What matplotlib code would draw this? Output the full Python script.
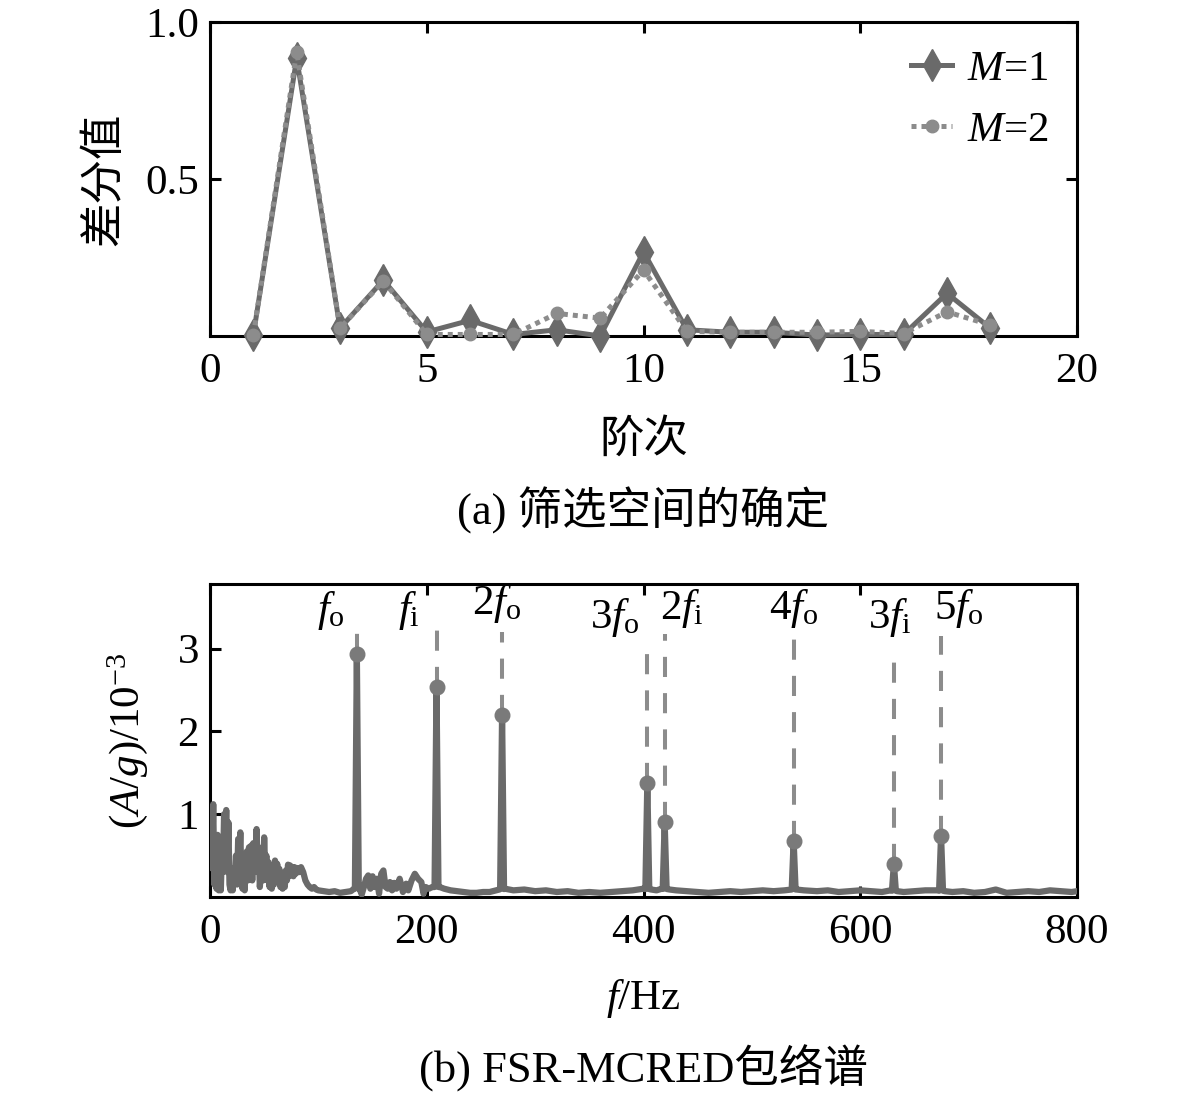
import matplotlib
matplotlib.use("Agg")
import matplotlib.pyplot as plt
import numpy as np

plt.rcParams['font.family'] = ['Liberation Serif', 'Noto Sans CJK SC']
plt.rcParams['mathtext.fontset'] = 'custom'
plt.rcParams['mathtext.rm'] = 'Liberation Serif'
plt.rcParams['mathtext.it'] = 'Liberation Serif:italic'
plt.rcParams['axes.unicode_minus'] = True

# ---------------- (a) data ----------------
order = [1, 2, 3, 4, 5, 6, 7, 8, 9, 10, 11, 12, 13, 14, 15, 16, 17, 18]
diff_m1 = [0.003, 0.885, 0.025, 0.178, 0.013, 0.05, 0.005, 0.02, 0.0, 0.268,
           0.02, 0.012, 0.012, 0.003, 0.005, 0.005, 0.136, 0.025]
diff_m2 = [0.003, 0.905, 0.025, 0.175, 0.005, 0.005, 0.005, 0.072, 0.057, 0.21,
           0.015, 0.012, 0.012, 0.012, 0.015, 0.008, 0.077, 0.035]

# ---------------- (b) data (amplitude in 1e-3) ----------------
# low-frequency noise band
low_freq = [0, 1, 2, 3, 4, 5, 6, 7, 8, 9, 10, 11, 12, 13, 14, 15, 16, 17, 18, 19,
            20, 21, 22, 23, 24, 25, 26, 27, 28, 29, 30, 31, 32, 33, 34, 35, 36, 37,
            38, 39, 40, 41, 42, 43, 44, 45, 46, 47, 48, 49, 50, 51, 52, 53, 54, 55,
            56, 57, 58, 59, 60, 61, 62, 63, 64, 65, 66, 67, 68, 69, 70, 71, 72, 73,
            74, 75, 76, 77, 78, 79, 80, 82, 84, 86, 88, 90, 92, 94, 96, 98, 100]
low_amp = [0.35, 1.0, 0.4, 1.12, 0.15, 0.7, 0.1, 0.75, 0.08, 0.45, 0.08, 0.55,
           0.3, 1.0, 0.6, 1.05, 0.3, 0.9, 0.15, 0.08, 0.3, 0.08, 0.35, 0.2, 0.5,
           0.15, 0.7, 0.4, 0.78, 0.2, 0.1, 0.3, 0.08, 0.4, 0.55, 0.2, 0.6, 0.35,
           0.62, 0.2, 0.65, 0.3, 0.5, 0.82, 0.3, 0.6, 0.12, 0.3, 0.55, 0.2, 0.72,
           0.3, 0.5, 0.2, 0.42, 0.12, 0.3, 0.1, 0.3, 0.15, 0.44, 0.2, 0.4, 0.25,
           0.34, 0.12, 0.2, 0.1, 0.2, 0.12, 0.32, 0.2, 0.39, 0.25, 0.38, 0.3,
           0.36, 0.25, 0.36, 0.28, 0.35, 0.3, 0.36, 0.3, 0.2, 0.15, 0.12, 0.1,
           0.12, 0.09, 0.08]
# 100-206 Hz (between 0.1 kHz and the f_i line)
mid_freq = [105, 110, 115, 120, 125, 130, 133, 138, 140, 142, 144, 146, 148,
            150, 152, 154, 156, 158, 160, 162, 164, 166, 168, 170, 172, 175, 178,
            181, 183, 186, 189, 192, 195, 197, 199, 202, 205]
mid_amp = [0.07, 0.06, 0.07, 0.05, 0.06, 0.07, 0.1, 0.1, 0.03, 0.12, 0.22,
           0.26, 0.1, 0.25, 0.12, 0.22, 0.04, 0.28, 0.32, 0.12, 0.1, 0.18, 0.08,
           0.17, 0.1, 0.22, 0.06, 0.16, 0.08, 0.2, 0.28, 0.22, 0.18, 0.04, 0.12,
           0.1, 0.12]
# broadband floor above 210 Hz
floor_freq = [212, 216, 222, 228, 234, 240, 246, 252, 258, 264, 267,
              272, 280, 290, 300, 310, 320, 330, 340, 350, 360, 370, 380, 390,
              400, 407, 412, 417, 424, 430, 440, 450, 460, 470, 480, 490, 500,
              510, 520, 530, 536, 541, 548, 560, 570, 580, 590, 600, 610, 620,
              628, 634, 640, 650, 660, 671, 678, 685, 695, 705, 715, 725, 735,
              745, 755, 765, 775, 785, 795, 800]
floor_amp = [0.12, 0.1, 0.08, 0.07, 0.06, 0.05, 0.05, 0.06, 0.06, 0.08, 0.09,
             0.1, 0.08, 0.09, 0.07, 0.08, 0.06, 0.07, 0.05, 0.06, 0.05, 0.06,
             0.07, 0.08, 0.1, 0.09, 0.08, 0.1, 0.09, 0.08, 0.07, 0.06, 0.05,
             0.06, 0.07, 0.06, 0.07, 0.08, 0.07, 0.08, 0.09, 0.09, 0.08, 0.07,
             0.08, 0.06, 0.07, 0.08, 0.07, 0.06, 0.08, 0.07, 0.06, 0.07, 0.08,
             0.08, 0.07, 0.06, 0.07, 0.05, 0.06, 0.09, 0.05, 0.06, 0.07, 0.06,
             0.08, 0.07, 0.06, 0.07]

peak_freq = [135.5, 209.0, 269.5, 403.5, 419.5, 538.5, 631.0, 674.5]
peak_amp = [2.94, 2.54, 2.20, 1.38, 0.90, 0.68, 0.40, 0.74]
peak_guide_top = [3.25, 3.25, 3.20, 3.00, 3.17, 3.17, 2.99, 3.15]
peak_labels = [r'$f_\mathrm{o}$', r'$f_\mathrm{i}$', r'2$f_\mathrm{o}$',
               r'3$f_\mathrm{o}$', r'2$f_\mathrm{i}$', r'4$f_\mathrm{o}$',
               r'3$f_\mathrm{i}$', r'5$f_\mathrm{o}$']

c_dark = '#6a6a6a'
c_light = '#8c8c8c'
FS = 31
FSC = 32

fig = plt.figure(figsize=(11.81, 10.96), dpi=100)
ax1 = fig.add_axes([0.1778, 0.6934, 0.7342, 0.2865])
ax2 = fig.add_axes([0.1778, 0.1816, 0.7342, 0.2856])

# ---------------- (a) ----------------
ax1.plot(order, diff_m1, color=c_dark, lw=3.6, marker='d', ms=16,
         mec=c_dark, mfc=c_dark, label='$M$=1', zorder=3, clip_on=False)
ax1.plot(order, diff_m2, color=c_light, lw=3.6, ls=(0, (1, 1)), marker='o',
         ms=9, mec=c_light, mfc=c_light, label='$M$=2', zorder=4, clip_on=False)
ax1.set_xlim(0, 20)
ax1.set_ylim(0, 1.0)
ax1.set_xticks([0, 5, 10, 15, 20])
ax1.set_yticks([0.5, 1.0])
ax1.set_yticklabels(['0.5', '1.0'])
ax1.tick_params(which='both', direction='in', top=True, right=True,
                length=8, width=2.2, labelsize=FS)
ax1.tick_params(axis='x', pad=12)
ax1.tick_params(axis='y', pad=8)
ax1.set_xlabel('阶次', fontsize=FSC, labelpad=20)
ax1.set_ylabel('差分值', fontsize=FSC, labelpad=14)
leg = ax1.legend(loc='upper right', frameon=False, fontsize=FS,
                 handlelength=0.95, handletextpad=0.35, labelspacing=0.5,
                 borderaxespad=0.25)

# ---------------- (b) ----------------
sf = low_freq + mid_freq + floor_freq
sa = low_amp + mid_amp + floor_amp
bf = list(sf)
ba = list(sa)
for f, a in zip(peak_freq, peak_amp):
    base = float(np.interp(f, bf, ba))
    sf = sf + [f - 1.8, f, f + 1.8]
    sa = sa + [base, a, base]
idx = np.argsort(sf, kind='stable')
sf = np.array(sf)[idx]
sa = np.array(sa)[idx]
ax2.plot(sf, sa, color=c_dark, lw=4.5, zorder=3)
for f, a, t in zip(peak_freq, peak_amp, peak_guide_top):
    ax2.plot([f, f], [a, t], color=c_light, lw=2.9, ls=(0, (5, 4)), zorder=2)
ax2.plot(peak_freq, peak_amp, 'o', color='#7a7a7a', ms=10.5, zorder=4)

lab_dx = [-11, -15, -5, -7, -4, 0, -4, -6.5]
lab_ha = ['right', 'right', 'center', 'right', 'left', 'center', 'center', 'left']
lab_y = [3.33, 3.33, 3.42, 3.25, 3.36, 3.36, 3.25, 3.36]
for f, dx, ha, y, t in zip(peak_freq, lab_dx, lab_ha, lab_y, peak_labels):
    ax2.text(f + dx, y, t, ha=ha, va='baseline', fontsize=FS, zorder=5)

ax2.set_xlim(0, 800)
ax2.set_ylim(0, 3.78)
ax2.set_xticks([0, 200, 400, 600, 800])
ax2.set_yticks([1, 2, 3])
ax2.tick_params(which='both', direction='in', top=True, right=False,
                length=8, width=2.2, labelsize=FS)
ax2.tick_params(axis='x', pad=12)
ax2.tick_params(axis='y', pad=8)
ax2.set_xlabel('$f$/Hz', fontsize=FS, labelpad=18)
ax2.set_ylabel('($A$/$g$)/10$^{-3}$', fontsize=FS, labelpad=20)

for ax in (ax1, ax2):
    for s in ax.spines.values():
        s.set_linewidth(2.2)

fig.text(0.5448, 0.5347, '(a) 筛选空间的确定', ha='center', va='center', fontsize=FSC)
fig.text(0.5448, 0.0255, '(b) FSR-MCRED包络谱', ha='center', va='center', fontsize=FSC)

fig.savefig('out.png', dpi=100)
